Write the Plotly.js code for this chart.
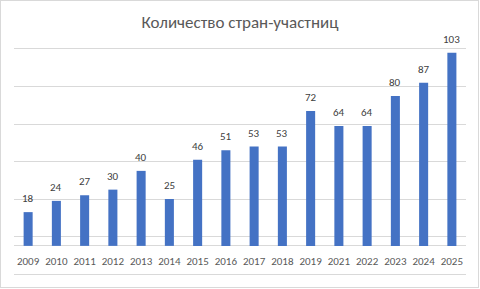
<!DOCTYPE html>
<html>
<head>
<meta charset="utf-8">
<script src="https://cdn.plot.ly/plotly-3.0.1.min.js"></script>
<style>
  html, body { margin: 0; padding: 0; background: #fff; }
  #wrap { position: relative; width: 480px; height: 289px; }
  #chart { position: absolute; left: 0; top: 0; width: 480px; height: 289px; }
  #frame { position: absolute; left: 0; top: 0; width: 479px; height: 288px; box-sizing: border-box; border: 1px solid #d9d9d9; pointer-events: none; }
</style>
</head>
<body>
<div id="wrap"><div id="chart"></div><div id="frame"></div></div>
<script>
const chartTitle = "Количество стран-участниц";
const years = ["2009","2010","2011","2012","2013","2014","2015","2016","2017","2018","2019","2021","2022","2023","2024","2025"];
const countries = [18, 24, 27, 30, 40, 25, 46, 51, 53, 53, 72, 64, 64, 80, 87, 103];

const font = "Calibri, Carlito, 'Liberation Sans', Arial, sans-serif";

const trace = {
  type: "bar",
  x: years,
  y: countries,
  marker: { color: "#4472C4" },
  hoverinfo: "x+y"
};

// data labels: positioned by category index on the x axis and by value on the y axis
const annotations = years.map((yr, i) => ({
  x: i, y: countries[i], xref: "x", yref: "y",
  text: String(countries[i]), showarrow: false,
  yanchor: "bottom", yshift: 5,
  font: { family: font, size: 11, color: "#404040" }
}));

const layout = {
  width: 480, height: 289,
  margin: { l: 14, r: 14, t: 49, b: 15, pad: 0 },
  paper_bgcolor: "#ffffff",
  plot_bgcolor: "#ffffff",
  title: {
    text: chartTitle,
    x: 0.5, xanchor: "center", xref: "paper",
    y: 1, yref: "container", yanchor: "top", pad: { t: 16 },
    font: { family: font, size: 17, color: "#595959" }
  },
  bargap: 0.68,
  showlegend: false,
  xaxis: {
    type: "category",
    categoryorder: "array", categoryarray: years,
    range: [-0.5, years.length - 0.5], autorange: false,
    showline: true, mirror: true, linecolor: "#d9d9d9", linewidth: 1,
    ticks: "", showgrid: false, zeroline: false,
    ticklabelstandoff: -23,
    tickfont: { family: font, size: 11, color: "#595959" },
    fixedrange: true
  },
  yaxis: {
    range: [-15, 105], autorange: false,
    tick0: 5, dtick: 20, tickmode: "linear",
    showgrid: true, gridcolor: "#d9d9d9", gridwidth: 1,
    zeroline: true, zerolinecolor: "#d9d9d9", zerolinewidth: 1,
    showline: false,
    showticklabels: false, ticks: "",
    fixedrange: true
  },
  annotations: annotations
};

Plotly.newPlot("chart", [trace], layout, { displayModeBar: false, staticPlot: true });
</script>
</body>
</html>
